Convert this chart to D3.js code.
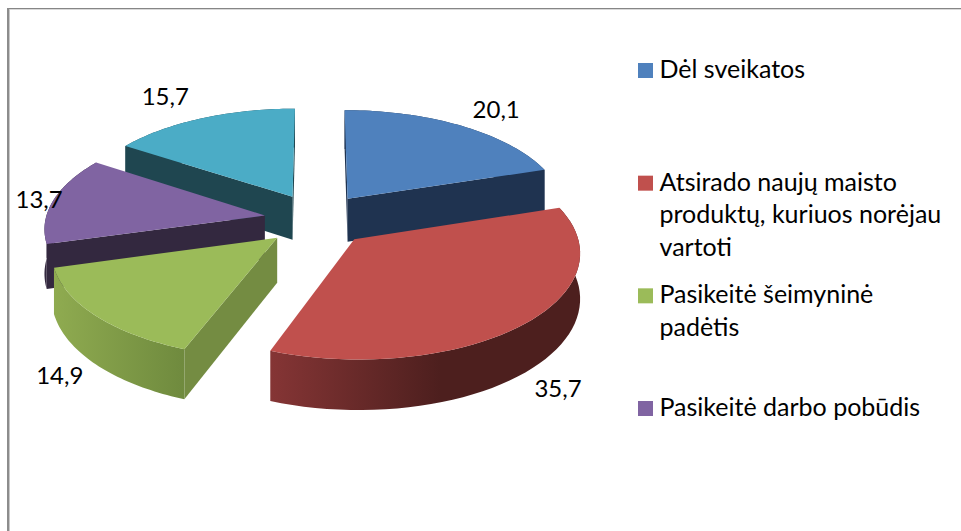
<!DOCTYPE html>
<html>
<head>
<meta charset="utf-8">
<script src="https://cdn.jsdelivr.net/npm/d3@7"></script>
<style>
  body { margin: 0; background: #fff; }
  text { font-family: Lato, sans-serif; fill: #000; }
</style>
</head>
<body>
<div id="chart"></div>
<script>
// chart data
var values = [20.1, 35.7, 14.9, 13.7, 15.7];
var valueLabels = ['20,1', '35,7', '14,9', '13,7', '15,7'];
// only four of the five slices have a legend entry in the original
var legendLines = [
  ['Dėl sveikatos'],
  ['Atsirado naujų maisto', 'produktų, kuriuos norėjau', 'vartoti'],
  ['Pasikeitė šeimyninė', 'padėtis'],
  ['Pasikeitė darbo pobūdis']
];
var topColors = ['#4f81bd', '#c0504d', '#9bbb59', '#8064a2', '#4bacc6'];
var edgeColors = ['#1f3350', '#4d1f1e', '#748c42', '#33283f', '#1f4650'];
var rimFrom = ['#1f3350', '#853535', '#8fab50', '#33283f', '#1f4650'];
var rimTo = ['#1f3350', '#4d1f1e', '#6f8a3e', '#33283f', '#1f4650'];
// far slices first so nearer ones paint over them
var paintOrder = [4, 0, 3, 2, 1];
// small shifts of the data labels away from the computed spot
var labelNudge = [[12, -1], [-9, -5], [8, -8], [31, 3], [-19, -6]];

var width = 961, height = 531;
var cx = 317, cy = 219.6;   // pie centre on screen
var radius = 205, widen = 1.07, explode = 53, depth = 44;
var squash = 0.5, persp = 0.000534;

var svg = d3.select('#chart').append('svg')
  .attr('width', width)
  .attr('height', height);

var defs = svg.append('defs');

// frame, only the top and left sides show
svg.append('rect').attr('x', 7).attr('y', 8).attr('width', width - 7).attr('height', 1).attr('fill', '#868686');
svg.append('rect').attr('x', 7).attr('y', 9).attr('width', width - 7).attr('height', 1).attr('fill', '#d9d9d9');
svg.append('rect').attr('x', 7).attr('y', 8).attr('width', 2).attr('height', height - 8).attr('fill', '#8c8c8c');
svg.append('rect').attr('x', 9).attr('y', 9).attr('width', 1).attr('height', height - 9).attr('fill', '#c8c8c8');

// world x,y on the pie plane -> screen; z is the distance under the top face
function project(x, y, z) {
  var f = 1 / (1 - persp * y);
  return [cx + x * f, cy + (y * squash + (z || 0)) * f];
}

var pie = d3.pie().sort(null).value(function(d){ return d; });
var arcs = pie(values);
var line = d3.line();

// a point of the slice in world units, r measured from the slice's own apex
function slicePoint(d, angle, r) {
  var mid = (d.startAngle + d.endAngle) / 2;
  return [
    explode * Math.sin(mid) + r * widen * Math.sin(angle),
    -explode * Math.cos(mid) - r * Math.cos(angle)
  ];
}

function rimAngles(d) {
  var n = 48;
  return d3.range(n + 1).map(function(i){
    return d.startAngle + (d.endAngle - d.startAngle) * i / n;
  });
}

function edgeQuad(d, angle) {
  var apex = slicePoint(d, angle, 0);
  var rim = slicePoint(d, angle, radius);
  return [
    project(apex[0], apex[1], 0),
    project(rim[0], rim[1], 0),
    project(rim[0], rim[1], depth),
    project(apex[0], apex[1], depth)
  ];
}

paintOrder.forEach(function(i){
  var d = arcs[i];
  var g = svg.append('g').attr('class', 'slice');

  var rimTop = rimAngles(d).map(function(a){
    var p = slicePoint(d, a, radius);
    return project(p[0], p[1], 0);
  });
  var rimBottom = rimAngles(d).map(function(a){
    var p = slicePoint(d, a, radius);
    return project(p[0], p[1], depth);
  });

  var xs = d3.extent(rimTop, function(p){ return p[0]; });
  var grad = defs.append('linearGradient')
    .attr('id', 'rim' + i)
    .attr('gradientUnits', 'userSpaceOnUse')
    .attr('x1', xs[0]).attr('x2', i === 1 ? xs[0] + 170 : xs[1])
    .attr('y1', 0).attr('y2', 0);
  grad.append('stop').attr('offset', 0).attr('stop-color', rimFrom[i]);
  grad.append('stop').attr('offset', 1).attr('stop-color', rimTo[i]);

  // outer wall
  g.append('path')
    .attr('d', line(rimTop.concat(rimBottom.slice().reverse())) + 'Z')
    .attr('fill', 'url(#rim' + i + ')');

  // cut walls, only the ones turned to the viewer (d3.polygonArea is positive clockwise on screen)
  var startQuad = edgeQuad(d, d.startAngle);
  var endQuad = edgeQuad(d, d.endAngle);
  if (d3.polygonArea(startQuad) > 0) {
    g.append('path').attr('d', line(startQuad) + 'Z').attr('fill', edgeColors[i]);
  }
  if (d3.polygonArea(endQuad) < 0) {
    g.append('path').attr('d', line(endQuad) + 'Z').attr('fill', edgeColors[i]);
  }

  // top face
  var apex = slicePoint(d, d.startAngle, 0);
  g.append('path')
    .attr('d', line([project(apex[0], apex[1], 0)].concat(rimTop)) + 'Z')
    .attr('fill', topColors[i]);
});

// data labels, placed along each slice's middle
arcs.forEach(function(d, i){
  var mid = (d.startAngle + d.endAngle) / 2;
  var p = slicePoint(d, mid, 250);
  var front = p[1] > 100;
  var s = project(p[0], p[1], front ? depth : 0);
  svg.append('text')
    .attr('x', s[0] + labelNudge[i][0])
    .attr('y', s[1] + labelNudge[i][1] + 8)
    .attr('text-anchor', 'middle')
    .attr('font-size', 24)
    .text(valueLabels[i]);
});

// legend
var legendX = 638, swatch = 15, lineHeight = 32.5;
var legendTops = d3.scalePoint().domain(d3.range(legendLines.length)).range([63, 401]);

legendLines.forEach(function(lines, i){
  var top = legendTops(i);
  svg.append('rect')
    .attr('x', legendX)
    .attr('y', top)
    .attr('width', swatch)
    .attr('height', swatch)
    .attr('fill', topColors[i]);
  lines.forEach(function(t, j){
    svg.append('text')
      .attr('x', legendX + 21.5)
      .attr('y', top + swatch + j * lineHeight)
      .attr('font-size', 25)
      .text(t);
  });
});
</script>
</body>
</html>
